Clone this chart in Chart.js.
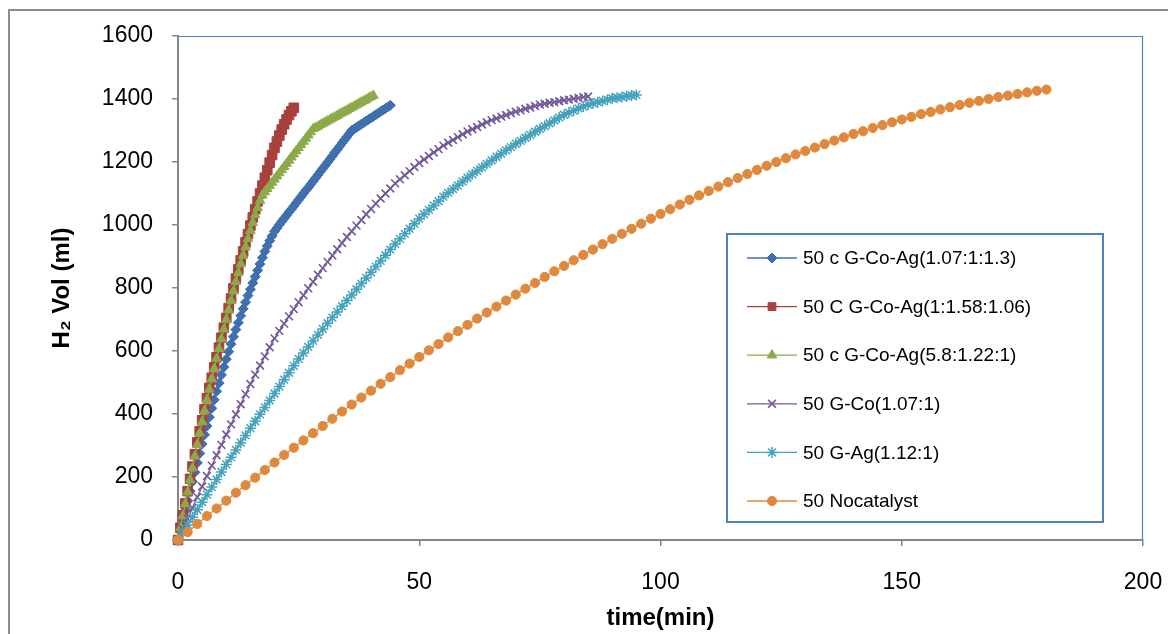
<!DOCTYPE html>
<html>
<head>
<meta charset="utf-8">
<script src="https://cdn.jsdelivr.net/npm/chart.js@4.4.1/dist/chart.umd.min.js"></script>
<style>
  html, body { margin: 0; padding: 0; background: #fff; }
  #wrap { width: 1168px; height: 634px; position: relative; }
</style>
</head>
<body>
<div id="wrap"><canvas id="myChart" width="1168" height="634"></canvas></div>
<script>
// sampling times (min)
const halfMin = [0,0.5,1,1.5,2,2.5,3,3.5,4,4.5,5,5.5,6,6.5,7,7.5,8,8.5,9,9.5,10,10.5,11,11.5,12,12.5,13,13.5,14,14.5,
  15,15.5,16,16.5,17,17.5,18,18.5,19,19.5,20,20.5,21,21.5,22,22.5,23,23.5,24,24.5,25,25.5,26,26.5,27,27.5,28,28.5,29,29.5,
  30,30.5,31,31.5,32,32.5,33,33.5,34,34.5,35,35.5,36,36.5,37,37.5,38,38.5,39,39.5,40,40.5,41,41.5,42,42.5,43,43.5,44]
const oneMin = [0,1,2,3,4,5,6,7,8,9,10,11,12,13,14,15,16,17,18,19,20,21,22,23,24,25,26,27,28,29,30,31,32,33,34,35,36,37,38,39,
  40,41,42,43,44,45,46,47,48,49,50,51,52,53,54,55,56,57,58,59,60,61,62,63,64,65,66,67,68,69,70,71,72,73,74,75,76,77,78,79,
  80,81,82,83,84,85,86,87,88,89,90,91,92,93,94,95]
const twoMin = [0,2,4,6,8,10,12,14,16,18,20,22,24,26,28,30,32,34,36,38,40,42,44,46,48,50,52,54,56,58,60,62,64,66,68,70,72,74,76,78,
  80,82,84,86,88,90,92,94,96,98,100,102,104,106,108,110,112,114,116,118,120,122,124,126,128,130,132,134,136,138,140,
  142,144,146,148,150,152,154,156,158,160,162,164,166,168,170,172,174,176,178,180]

// H2 volume (ml)
const gCoAg1 = [0,31,62,93,124,155,185,215,245,275,305,334,362,390,418,445,472,498,524,549,
  574,598,622,645,668,690,712,734,755,776,796,816,836,856,876,896,916,933,950,965,
  980,990,1001,1011,1021,1031,1041,1050,1060,1070,1080,1090,1100,1110,1119,1129,1139,1149,1159,1169,
  1179,1189,1199,1209,1219,1230,1240,1250,1260,1270,1280,1290,1300,1305,1310,1315,1320,1325,1330,1335,
  1340,1345,1350,1355,1360,1365,1370,1375,1380]
const gCoAg2 = [0,39,78,116,155,194,233,272,310,345,380,415,450,483,515,548,580,611,642,674,
  705,736,767,799,830,859,888,916,945,971,998,1024,1050,1075,1100,1125,1150,1174,1198,1222,
  1245,1265,1284,1303,1320,1335,1349,1361,1372]
const gCoAg3 = [0,38,76,114,152,190,228,266,303,339,375,410,445,478,511,544,576,607,638,669,
  700,730,760,790,820,848,876,903,930,956,982,1007,1032,1055,1078,1095,1105,1115,1125,1135,
  1145,1155,1165,1175,1185,1195,1205,1215,1225,1235,1245,1255,1265,1275,1285,1295,1305,1309,1313,1318,
  1322,1326,1330,1335,1339,1343,1347,1352,1356,1360,1364,1369,1373,1377,1381,1386,1390,1394,1398,1403,
  1407,1411]
const gCo = [0,34,68,102,136,170,203,236,269,302,335,367,399,431,463,495,525,554,583,612,
  640,664,687,710,733,755,777,799,820,842,863,883,903,923,943,962,980,998,1016,1034,
  1051,1068,1084,1100,1116,1132,1145,1158,1171,1184,1197,1208,1219,1230,1241,1252,1261,1270,1279,1288,
  1297,1304,1311,1319,1326,1333,1338,1344,1349,1355,1360,1364,1369,1373,1378,1382,1385,1388,1390,1393,
  1396,1398,1401,1403,1406,1408]
const gAg = [0,24,48,72,96,120,144,168,192,216,240,263,286,309,332,355,377,399,421,443,
  465,487,509,531,553,575,594,613,632,651,670,688,706,724,742,760,778,796,814,832,
  850,868,886,904,922,940,956,972,988,1004,1020,1034,1048,1062,1076,1090,1102,1114,1126,1138,
  1150,1161,1172,1183,1194,1205,1216,1226,1237,1247,1258,1267,1277,1286,1296,1305,1314,1323,1332,1341,
  1350,1357,1363,1370,1376,1382,1386,1390,1394,1398,1402,1404,1406,1409,1411,1413]
const noCat = [0,25,51,76,100,125,150,174,198,222,246,270,293,316,339,362,385,408,430,452,
  474,496,517,539,560,581,602,622,643,663,683,703,722,741,760,779,798,816,835,853,
  870,888,905,922,939,956,972,988,1004,1020,1035,1050,1065,1080,1094,1108,1122,1136,1149,1162,
  1175,1188,1200,1212,1224,1235,1246,1257,1268,1278,1289,1298,1308,1317,1326,1335,1343,1352,1359,1367,
  1374,1381,1388,1394,1400,1406,1411,1416,1421,1426,1430]

const labels = [
  '50 c G-Co-Ag(1.07:1:1.3)',
  '50 C G-Co-Ag(1:1.58:1.06)',
  '50 c G-Co-Ag(5.8:1.22:1)',
  '50 G-Co(1.07:1)',
  '50 G-Ag(1.12:1)',
  '50 Nocatalyst',
]
const xTicks = [0, 50, 100, 150, 200]
const yTicks = [0, 200, 400, 600, 800, 1000, 1200, 1400, 1600]

function pairs(times, vals) {
  return vals.map((v, i) => ({x: times[i], y: v}))
}

const series = [
  {data: pairs(halfMin, gCoAg1), color: '#3F6FAE', style: 'rectRot', r: 5, bw: 1},
  {data: pairs(halfMin, gCoAg2), color: '#A8403D', style: 'rect', r: 6.8, bw: 1},
  {data: pairs(halfMin, gCoAg3), color: '#8DAA4A', style: 'triangle', r: 5.5, bw: 1},
  {data: pairs(oneMin, gCo), color: '#73589A', style: 'crossRot', r: 5.5, bw: 1.6},
  {data: pairs(oneMin, gAg), color: '#45A2BC', style: 'star', r: 5.5, bw: 1.5},
  {data: pairs(twoMin, noCat), color: '#E0893D', style: 'circle', r: 4.6, bw: 1},
]

const datasets = series.map((s, i) => ({
  label: labels[i],
  data: s.data,
  showLine: true,
  borderColor: s.color,
  backgroundColor: s.color,
  borderWidth: 1.4,
  pointStyle: s.style,
  pointRadius: s.r,
  pointBorderWidth: s.bw,
  pointBorderColor: s.color,
  pointBackgroundColor: s.color,
  tension: 0,
  clip: false,
  order: series.length - i,
}))

const tickFont = {family: '"Liberation Sans", Arial, sans-serif', size: 23}
const titleFont = {family: '"Liberation Sans", Arial, sans-serif', size: 24, weight: 'bold'}

// frame, plot border and legend box
const extras = {
  id: 'extras',
  beforeDraw(chart) {
    const c = chart.ctx
    c.save()
    c.strokeStyle = '#8C8C8C'
    c.lineWidth = 2
    c.beginPath()
    c.moveTo(9, 640)
    c.lineTo(9, 10)
    c.lineTo(1175, 10)
    c.stroke()
    const a = chart.chartArea
    c.strokeStyle = '#4F81BD'
    c.lineWidth = 1.2
    c.beginPath()
    c.moveTo(a.left, a.top + 0.5)
    c.lineTo(a.right - 0.5, a.top + 0.5)
    c.lineTo(a.right - 0.5, a.bottom)
    c.stroke()
    c.restore()
  },
  afterDraw(chart) {
    const c = chart.ctx
    const box = {x: 727, y: 234, w: 376, h: 288}
    c.save()
    c.fillStyle = '#fff'
    c.fillRect(box.x, box.y, box.w, box.h)
    c.strokeStyle = '#4F81BD'
    c.lineWidth = 2
    c.strokeRect(box.x, box.y, box.w, box.h)
    c.font = '19px "Liberation Sans", Arial, sans-serif'
    c.textBaseline = 'middle'
    chart.data.datasets.forEach((ds, i) => {
      const y = 258 + i * 48.6
      c.strokeStyle = ds.borderColor
      c.lineWidth = 1.3
      c.beginPath()
      c.moveTo(747, y)
      c.lineTo(797, y)
      c.stroke()
      c.fillStyle = ds.pointBackgroundColor
      c.strokeStyle = ds.pointBorderColor
      c.lineWidth = ds.pointBorderWidth
      Chart.helpers.drawPoint(c, {pointStyle: ds.pointStyle, radius: Math.min(ds.pointRadius, 5.5), borderWidth: ds.pointBorderWidth, rotation: 0}, 772, y)
      c.fillStyle = '#000'
      c.fillText(ds.label, 803, y + 1)
    })
    c.restore()
  }
}

const ctx = document.getElementById('myChart').getContext('2d')

const myChart = new Chart(ctx, {
  type: 'scatter',
  data: {datasets},
  options: {
    responsive: false,
    animation: false,
    devicePixelRatio: 1,
    layout: {autoPadding: false, padding: {left: 0, right: 25, top: 36, bottom: 0}},
    plugins: {legend: {display: false}, tooltip: {enabled: false}},
    scales: {
      x: {
        type: 'linear',
        min: 0,
        max: 200,
        afterFit: (s) => { s.height = 94; s.paddingLeft = 0; s.paddingRight = 0 },
        afterBuildTicks: (s) => { s.ticks = xTicks.map(v => ({value: v})) },
        grid: {display: true, drawOnChartArea: false, drawTicks: true, tickLength: 6, color: '#868686', lineWidth: 1.5},
        border: {display: true, color: '#868686', width: 2},
        ticks: {font: tickFont, color: '#000', padding: 23, maxRotation: 0, callback: (v) => String(v)},
        title: {display: true, text: 'time(min)', font: titleFont, color: '#000', padding: {top: 0, bottom: 1}},
      },
      y: {
        type: 'linear',
        min: 0,
        max: 1600,
        afterFit: (s) => { s.width = 178; s.paddingTop = 0; s.paddingBottom = 0 },
        afterBuildTicks: (s) => { s.ticks = yTicks.map(v => ({value: v})) },
        grid: {display: true, drawOnChartArea: false, drawTicks: true, tickLength: 6, color: '#868686', lineWidth: 1.5},
        border: {display: true, color: '#868686', width: 2},
        ticks: {font: tickFont, color: '#000', padding: 19, callback: (v) => String(v)},
        title: {display: true, text: 'H₂ Vol (ml)', font: titleFont, color: '#000', padding: {top: 48, bottom: 0}},
      }
    }
  },
  plugins: [extras]
})
</script>
</body>
</html>
